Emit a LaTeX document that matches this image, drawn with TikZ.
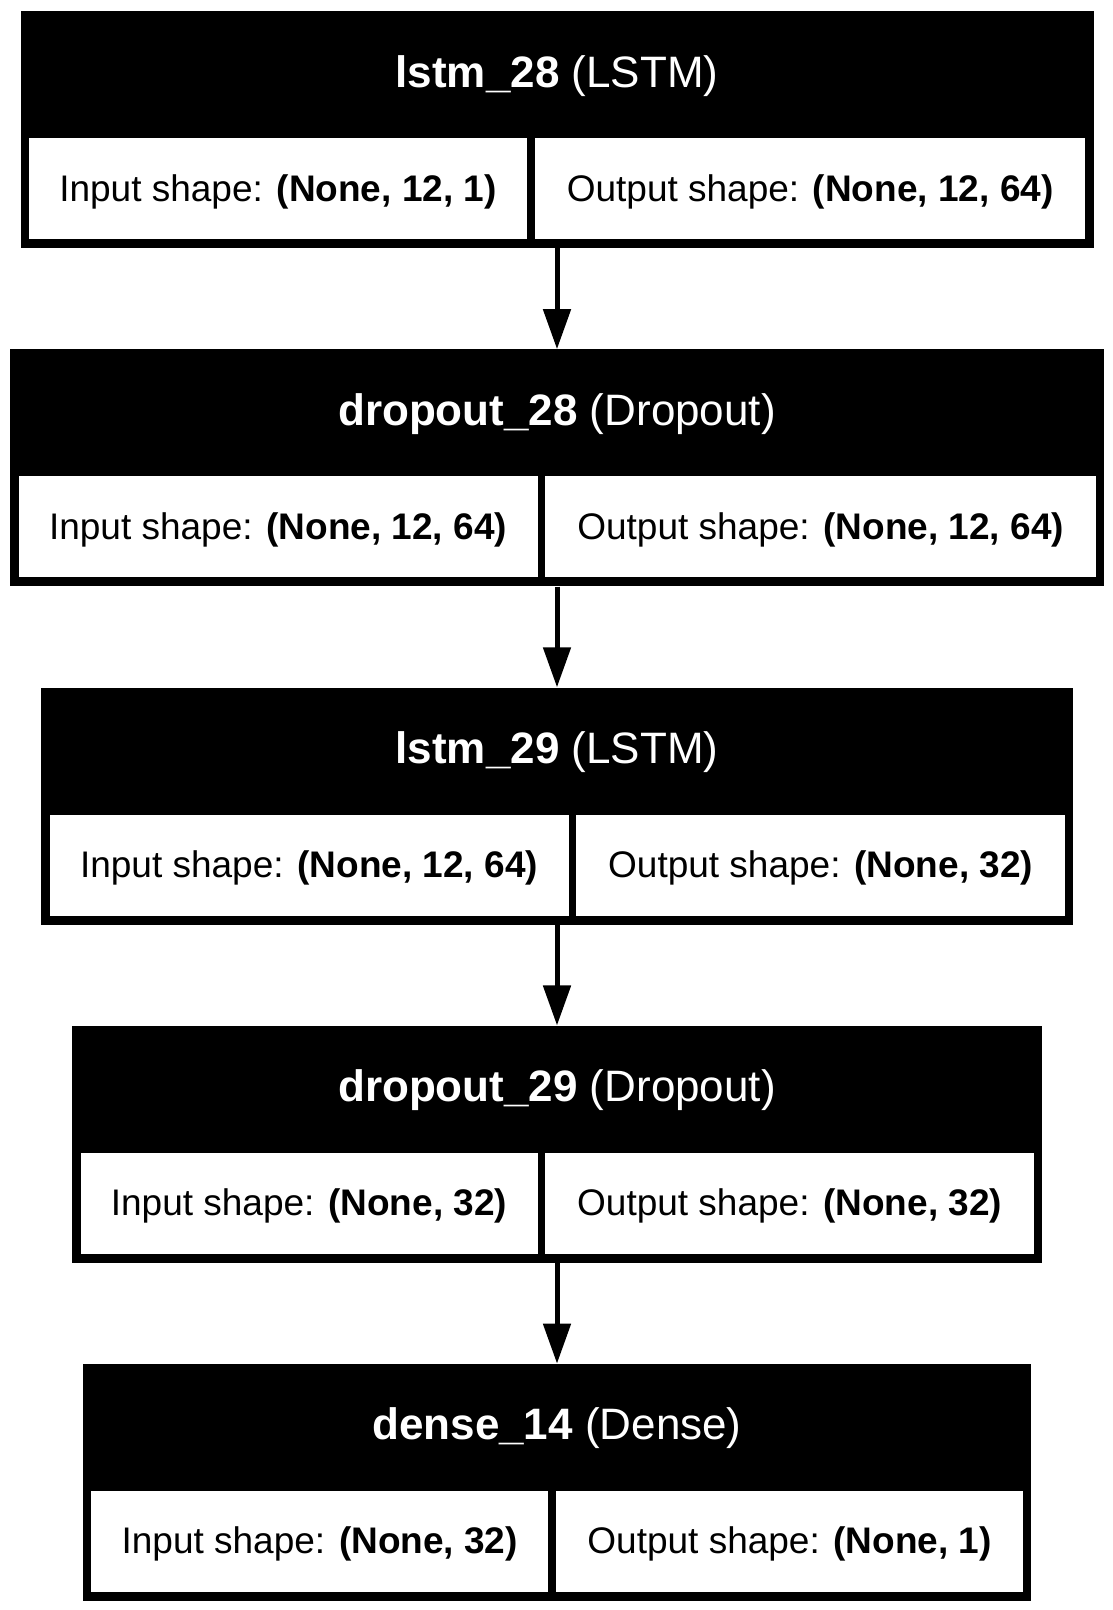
\documentclass[tikz,border=0pt]{standalone}
\usepackage{fontspec}
\setmainfont{Liberation Sans}
\usetikzlibrary{positioning,arrows.meta}

\begin{document}
\begin{tikzpicture}[x=1pt,y=-1pt]
\tikzset{node distance=100.75pt,
    layer/.style={rectangle, fill=black, inner sep=0pt, minimum height=237pt},
    title/.style={rectangle, inner sep=0pt, minimum height=127pt, text=white, text height=33pt, text depth=8pt, font=\fontsize{44}{52}\selectfont},
    cell/.style={rectangle, fill=white, inner sep=0pt, minimum height=101pt, text height=28pt, text depth=3pt, font=\fontsize{37}{44}\selectfont},
    flow/.style={-{Triangle[length=40pt,width=27pt]}, line width=5pt}
}
  \useasboundingbox (0,0) rectangle (1113,1610);

  \node[layer, minimum width=1073pt, anchor=north] (l1) at (557,11) {};
  \node[title, below=0pt of l1.north] (l1t) {\textbf{lstm\_28} (LSTM)};
  \node[cell, minimum width=498pt, below right=127pt and 8.5pt of l1.north west] (l1in) {Input shape: \textbf{(None, 12, 1)}};
  \node[cell, minimum width=550.5pt, right=7.5pt of l1in] (l1out) {Output shape: \textbf{(None, 12, 64)}};

  \node[layer, minimum width=1094pt, below=of l1] (l2) {};
  \node[title, below=0pt of l2.north] (l2t) {\textbf{dropout\_28} (Dropout)};
  \node[cell, minimum width=519pt, below right=127pt and 8.5pt of l2.north west] (l2in) {Input shape: \textbf{(None, 12, 64)}};
  \node[cell, minimum width=550.5pt, right=7.5pt of l2in] (l2out) {Output shape: \textbf{(None, 12, 64)}};

  \node[layer, minimum width=1032pt, below=of l2] (l3) {};
  \node[title, below=0pt of l3.north] (l3t) {\textbf{lstm\_29} (LSTM)};
  \node[cell, minimum width=519pt, below right=127pt and 8.5pt of l3.north west] (l3in) {Input shape: \textbf{(None, 12, 64)}};
  \node[cell, minimum width=488.5pt, right=7.5pt of l3in] (l3out) {Output shape: \textbf{(None, 32)}};

  \node[layer, minimum width=970pt, below=of l3] (l4) {};
  \node[title, below=0pt of l4.north] (l4t) {\textbf{dropout\_29} (Dropout)};
  \node[cell, minimum width=457pt, below right=127pt and 8.5pt of l4.north west] (l4in) {Input shape: \textbf{(None, 32)}};
  \node[cell, minimum width=488.5pt, right=7.5pt of l4in] (l4out) {Output shape: \textbf{(None, 32)}};

  \node[layer, minimum width=948.5pt, below=of l4] (l5) {};
  \node[title, below=0pt of l5.north] (l5t) {\textbf{dense\_14} (Dense)};
  \node[cell, minimum width=457pt, below right=127pt and 8.5pt of l5.north west] (l5in) {Input shape: \textbf{(None, 32)}};
  \node[cell, minimum width=467pt, right=7.5pt of l5in] (l5out) {Output shape: \textbf{(None, 1)}};

  \draw[flow] (l1) -- (l2);
  \draw[flow] (l2) -- (l3);
  \draw[flow] (l3) -- (l4);
  \draw[flow] (l4) -- (l5);
\end{tikzpicture}
\end{document}
